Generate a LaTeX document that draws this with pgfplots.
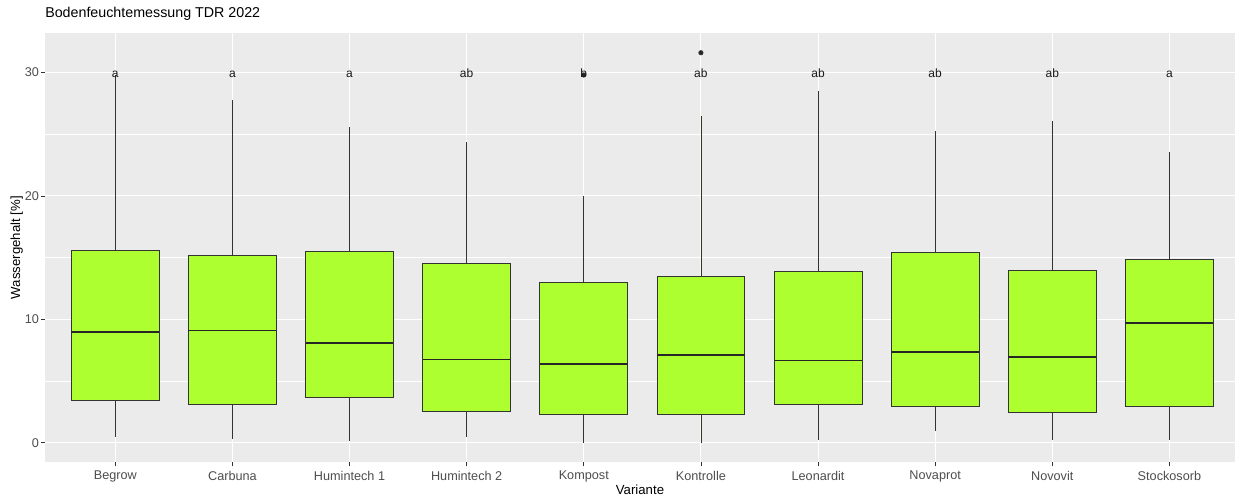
\documentclass[border=0pt]{standalone}
\usepackage{pgfplots}
\pgfplotsset{compat=1.18}
\usepgfplotslibrary{statistics}
\usepackage{fontspec}
\setmainfont{Liberation Sans}
\definecolor{panelbg}{HTML}{EBEBEB}
\definecolor{boxfill}{HTML}{ADFF2F}
\definecolor{boxline}{HTML}{333333}
\definecolor{ticktext}{HTML}{4D4D4D}
\pgfplotsset{
  gbox/.style={boxplot prepared={#1}, draw=boxline, fill=boxfill, line width=0.6pt, solid,
    mark=*, mark size=1.6pt, mark options={fill=black!85, draw=none}},
}
\begin{document}
\begin{tikzpicture}
\useasboundingbox (0,0) rectangle (926.25pt,372.75pt);
\begin{axis}[
  at={(33.75pt,26pt)}, anchor=south west,
  scale only axis, width=892.5pt, height=322pt,
  xmin=0.4, xmax=10.56, ymin=-1.58, ymax=33.2,
  xtick={1,2,3,4,5,6,7,8,9,10},
  xticklabels={Begrow,Carbuna,Humintech 1,Humintech 2,Kompost,Kontrolle,Leonardit,Novaprot,Novovit,Stockosorb},
  ytick={0,10,20,30}, minor ytick={5,15,25},
  grid=both,
  major grid style={white, line width=0.8pt},
  minor grid style={white, line width=0.4pt},
  axis background/.style={fill=panelbg},
  axis line style={draw=none},
  tick align=outside, xtick pos=bottom, ytick pos=left,
  major tick length=3pt, minor tick length=0pt,
  every tick/.style={boxline, line width=0.6pt},
  tick label style={font=\fontsize{9.5}{11}\selectfont, text=ticktext},
  yticklabel style={xshift=2pt},
  /pgf/number format/assume math mode=true,
  xlabel={Variante}, ylabel={Wassergehalt [\%]},
  label style={font=\fontsize{9.9}{12}\selectfont, text=black},
  xlabel style={at={(axis description cs:0.5,-0.0645)}, anchor=center},
  ylabel style={at={(axis description cs:-0.0238,0.5)}, anchor=center},
  title={Bodenfeuchtemessung TDR 2022},
  title style={at={(axis description cs:0,1)}, anchor=base west, yshift=5.85pt,
    font=\fontsize{10.7}{12}\selectfont, inner sep=0pt},
  boxplot/draw direction=y,
  boxplot/box extend=0.75,
  boxplot/whisker extend=0,
  boxplot/every median/.style={line width=1.3pt, draw=black!85},
]
\addplot[gbox={draw position=1, lower whisker=0.47, lower quartile=3.47, median=8.95, upper quartile=15.59, upper whisker=29.8}] coordinates {};
\addplot[gbox={draw position=2, lower whisker=0.3, lower quartile=3.13, median=9.1, upper quartile=15.22, upper whisker=27.8}] coordinates {};
\addplot[gbox={draw position=3, lower whisker=0.15, lower quartile=3.69, median=8.11, upper quartile=15.47, upper whisker=25.55}] coordinates {};
\addplot[gbox={draw position=4, lower whisker=0.47, lower quartile=2.55, median=6.76, upper quartile=14.56, upper whisker=24.35}] coordinates {};
\addplot[gbox={draw position=5, lower whisker=0.0, lower quartile=2.27, median=6.4, upper quartile=12.96, upper whisker=20.0}] table[row sep=\\, y index=0] {29.8\\};
\addplot[gbox={draw position=6, lower whisker=0.0, lower quartile=2.27, median=7.1, upper quartile=13.48, upper whisker=26.5}] table[row sep=\\, y index=0] {31.6\\};
\addplot[gbox={draw position=7, lower whisker=0.23, lower quartile=3.13, median=6.68, upper quartile=13.85, upper whisker=28.5}] coordinates {};
\addplot[gbox={draw position=8, lower whisker=0.96, lower quartile=2.92, median=7.33, upper quartile=15.39, upper whisker=25.25}] coordinates {};
\addplot[gbox={draw position=9, lower whisker=0.23, lower quartile=2.47, median=6.95, upper quartile=13.96, upper whisker=26.05}] coordinates {};
\addplot[gbox={draw position=10, lower whisker=0.23, lower quartile=2.92, median=9.73, upper quartile=14.86, upper whisker=23.55}] coordinates {};
\addplot[draw=none, mark=none, nodes near coords, point meta=explicit symbolic,
  nodes near coords style={anchor=base, font=\fontsize{9}{10}\selectfont, text=black!90, inner sep=0pt}]
  table[meta=lab, row sep=\\] {
  x y lab\\
  1 29.56 a\\
  2 29.56 a\\
  3 29.56 a\\
  4 29.56 ab\\
  5 29.56 b\\
  6 29.56 ab\\
  7 29.56 ab\\
  8 29.56 ab\\
  9 29.56 ab\\
  10 29.56 a\\
};
\end{axis}
\end{tikzpicture}
\end{document}
